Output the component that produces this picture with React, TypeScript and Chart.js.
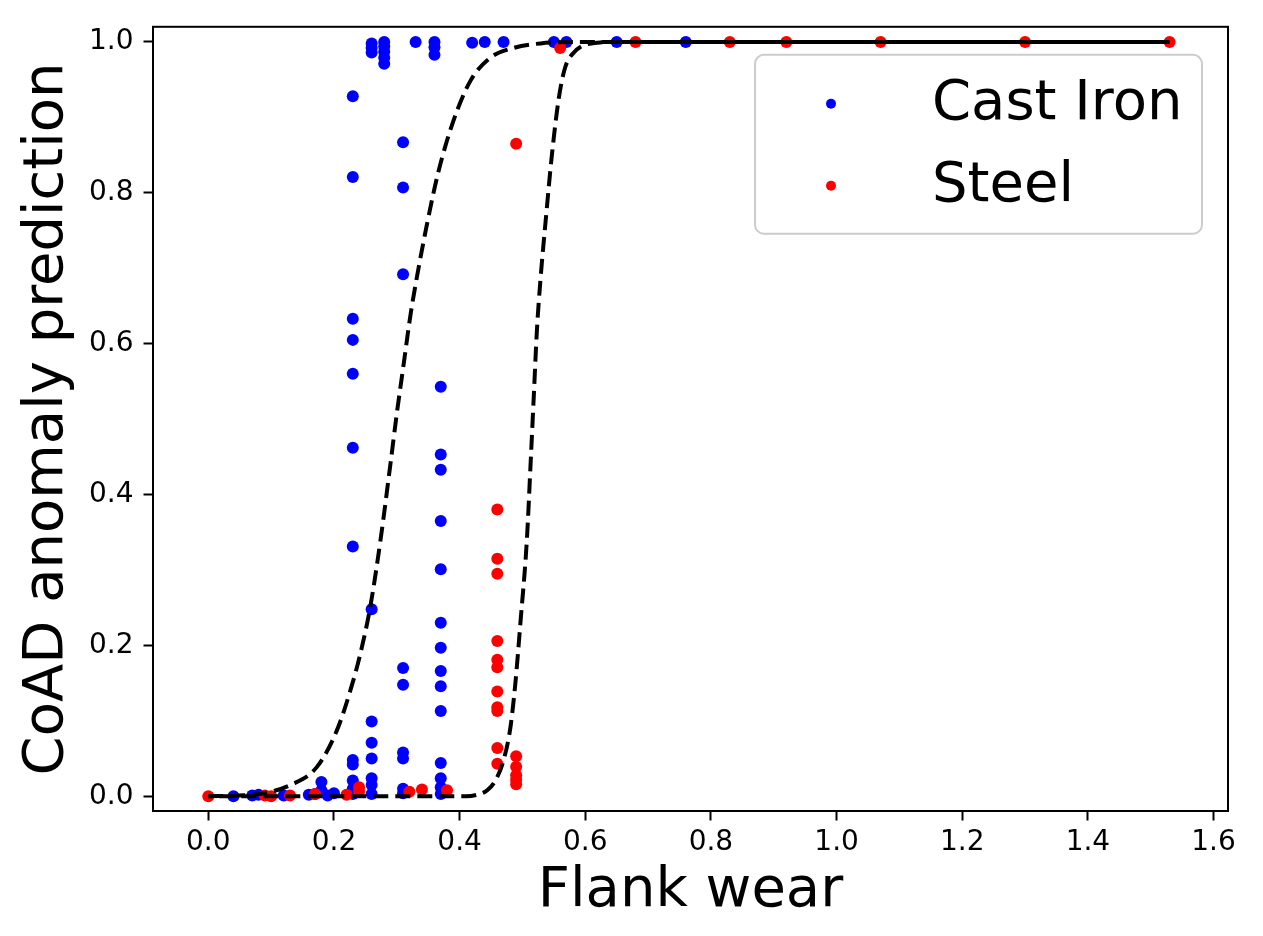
import { useEffect, useRef } from 'react';
import { Chart, registerables } from 'chart.js';
import type { Plugin } from 'chart.js';

Chart.register(...registerables);

const FONT = '"DejaVu Sans", sans-serif';

const seriesNames = ['Cast Iron', 'Steel'];
const seriesColors = ['#0000ff', '#ff0000'];

// [flank wear, anomaly prediction]
const castIronPoints: [number, number][] = [
  [0.04, 0.0], [0.07, 0.001], [0.08, 0.002], [0.12, 0.001], [0.16, 0.002],
  [0.17, 0.003], [0.18, 0.019], [0.18, 0.008], [0.19, 0.001], [0.2, 0.004],
  [0.23, 0.928], [0.23, 0.821], [0.23, 0.633], [0.23, 0.605], [0.23, 0.56],
  [0.23, 0.462], [0.23, 0.331], [0.23, 0.048], [0.23, 0.042], [0.23, 0.021],
  [0.23, 0.01], [0.23, 0.003],
  [0.26, 0.998], [0.26, 0.992], [0.26, 0.986], [0.26, 0.248], [0.26, 0.099],
  [0.26, 0.071], [0.26, 0.05], [0.26, 0.024], [0.26, 0.015], [0.26, 0.003],
  [0.28, 1.0], [0.28, 0.994], [0.28, 0.987], [0.28, 0.979], [0.28, 0.971],
  [0.31, 0.867], [0.31, 0.807], [0.31, 0.692], [0.31, 0.17], [0.31, 0.148],
  [0.31, 0.058], [0.31, 0.05], [0.31, 0.01], [0.31, 0.004],
  [0.33, 1.0], [0.36, 1.0], [0.36, 0.993], [0.36, 0.983],
  [0.37, 0.543], [0.37, 0.453], [0.37, 0.433], [0.37, 0.365], [0.37, 0.301],
  [0.37, 0.23], [0.37, 0.197], [0.37, 0.166], [0.37, 0.146], [0.37, 0.113],
  [0.37, 0.044], [0.37, 0.024], [0.37, 0.012], [0.37, 0.003],
  [0.42, 0.999], [0.44, 1.0], [0.47, 1.0], [0.55, 1.0], [0.57, 1.0],
  [0.65, 1.0], [0.76, 1.0],
];

const steelPoints: [number, number][] = [
  [0.0, 0.0], [0.09, 0.001], [0.1, 0.0], [0.13, 0.001], [0.17, 0.003],
  [0.22, 0.002], [0.24, 0.012], [0.24, 0.006], [0.32, 0.006], [0.34, 0.009],
  [0.38, 0.008],
  [0.46, 0.38], [0.46, 0.315], [0.46, 0.295], [0.46, 0.206], [0.46, 0.181],
  [0.46, 0.171], [0.46, 0.139], [0.46, 0.118], [0.46, 0.113], [0.46, 0.064],
  [0.46, 0.043],
  [0.49, 0.865], [0.49, 0.053], [0.49, 0.039], [0.49, 0.028], [0.49, 0.022],
  [0.49, 0.016],
  [0.56, 0.992], [0.68, 1.0], [0.83, 1.0], [0.92, 1.0], [1.07, 1.0],
  [1.3, 1.0], [1.53, 1.0],
];

// fitted curves
const castIronFit: [number, number][] = [
  [0.0, 0.0], [0.05, 0.001], [0.088, 0.004], [0.131, 0.015], [0.173, 0.039],
  [0.205, 0.088], [0.226, 0.14], [0.242, 0.189], [0.258, 0.252],
  [0.274, 0.339], [0.29, 0.441], [0.3, 0.507], [0.311, 0.573], [0.322, 0.639],
  [0.332, 0.688], [0.348, 0.758], [0.366, 0.827], [0.39, 0.895],
  [0.417, 0.948], [0.449, 0.979], [0.486, 0.992], [0.529, 0.998],
  [0.6, 1.0], [1.53, 1.0],
];

const steelFit: [number, number][] = [
  [0.0, 0.0], [0.41, 0.0], [0.428, 0.002], [0.444, 0.008], [0.457, 0.021],
  [0.47, 0.048], [0.481, 0.092], [0.489, 0.152], [0.497, 0.232],
  [0.507, 0.339], [0.513, 0.441], [0.518, 0.529], [0.523, 0.617],
  [0.529, 0.688], [0.537, 0.763], [0.547, 0.851], [0.558, 0.926],
  [0.568, 0.966], [0.582, 0.986], [0.603, 0.997], [0.65, 1.0], [1.53, 1.0],
];

const xTicks = [0, 0.2, 0.4, 0.6, 0.8, 1.0, 1.2, 1.4, 1.6];
const yTicks = [0, 0.2, 0.4, 0.6, 0.8, 1.0];

const toXY = (pts: [number, number][]) => pts.map(([x, y]) => ({ x, y }));

// matplotlib-like full frame plus the legend box inside the axes
const frameAndLegend: Plugin<'scatter'> = {
  id: 'frameAndLegend',
  afterDraw(chart) {
    const { ctx, chartArea } = chart;
    ctx.save();
    ctx.strokeStyle = '#000';
    ctx.lineWidth = 2;
    ctx.strokeRect(
      chartArea.left,
      chartArea.top,
      chartArea.right - chartArea.left,
      chartArea.bottom - chartArea.top,
    );

    const right = chartArea.right - 26;
    const top = chartArea.top + 28;
    const left = right - 447;
    const bottom = top + 179;
    ctx.beginPath();
    ctx.roundRect(left, top, right - left, bottom - top, 9);
    ctx.fillStyle = 'rgba(255,255,255,0.8)';
    ctx.fill();
    ctx.strokeStyle = '#cccccc';
    ctx.lineWidth = 2;
    ctx.stroke();

    ctx.font = `56px ${FONT}`;
    ctx.textBaseline = 'alphabetic';
    ctx.textAlign = 'left';
    seriesNames.forEach((name, i) => {
      const rowY = top + 49 + i * 82;
      ctx.beginPath();
      ctx.arc(left + 76, rowY, 5, 0, Math.PI * 2);
      ctx.fillStyle = seriesColors[i];
      ctx.fill();
      ctx.fillStyle = '#000';
      ctx.fillText(name, left + 177, rowY + 15);
    });
    ctx.restore();
  },
};

export default function App() {
  const canvasRef = useRef<HTMLCanvasElement | null>(null);

  useEffect(() => {
    if (!canvasRef.current) {
      return;
    }

    const tickFont = { family: FONT, size: 28 };
    const titleFont = { family: FONT, size: 56 };

    const chart = new Chart(canvasRef.current, {
      type: 'scatter',
      data: {
        datasets: [
          {
            label: 'Cast Iron fit',
            data: toXY(castIronFit),
            showLine: true,
            pointRadius: 0,
            borderColor: '#000',
            borderWidth: 4,
            borderDash: [15, 7],
            cubicInterpolationMode: 'monotone',
            order: 0,
          },
          {
            label: 'Steel fit',
            data: toXY(steelFit),
            showLine: true,
            pointRadius: 0,
            borderColor: '#000',
            borderWidth: 4,
            borderDash: [15, 7],
            borderDashOffset: 11,
            cubicInterpolationMode: 'monotone',
            order: 0,
          },
          {
            label: seriesNames[1],
            data: toXY(steelPoints),
            pointRadius: 6,
            pointBorderWidth: 0,
            backgroundColor: seriesColors[1],
            borderColor: seriesColors[1],
            order: 1,
          },
          {
            label: seriesNames[0],
            data: toXY(castIronPoints),
            pointRadius: 6,
            pointBorderWidth: 0,
            backgroundColor: seriesColors[0],
            borderColor: seriesColors[0],
            order: 2,
          },
        ],
      },
      options: {
        animation: false,
        responsive: true,
        maintainAspectRatio: false,
        events: [],
        layout: {
          padding: { top: 26, right: 35, left: 0, bottom: 0 },
        },
        plugins: {
          legend: { display: false },
          tooltip: { enabled: false },
        },
        scales: {
          x: {
            type: 'linear',
            min: -0.088,
            max: 1.623,
            afterBuildTicks: (scale) => {
              scale.ticks = xTicks.map((value) => ({ value }));
            },
            afterFit: (scale) => {
              scale.height = 125;
            },
            ticks: {
              font: tickFont,
              color: '#000',
              padding: 5,
              callback: (value) => Number(value).toFixed(1),
            },
            grid: {
              drawOnChartArea: false,
              tickLength: 9.5,
              tickColor: '#000',
              tickWidth: 2,
            },
            border: { color: '#000', width: 2 },
            title: {
              display: true,
              text: 'Flank wear',
              color: '#000',
              font: titleFont,
              padding: { top: 0, bottom: 11 },
            },
          },
          y: {
            type: 'linear',
            min: -0.0195,
            max: 1.02,
            afterBuildTicks: (scale) => {
              scale.ticks = yTicks.map((value) => ({ value }));
            },
            afterFit: (scale) => {
              scale.width = 153;
            },
            ticks: {
              font: tickFont,
              color: '#000',
              padding: 10,
              callback: (value) => Number(value).toFixed(1),
            },
            grid: {
              drawOnChartArea: false,
              tickLength: 9.5,
              tickColor: '#000',
              tickWidth: 2,
            },
            border: { color: '#000', width: 2 },
            title: {
              display: true,
              text: 'CoAD anomaly prediction',
              color: '#000',
              font: titleFont,
              padding: { top: 14, bottom: 0 },
            },
          },
        },
      },
      plugins: [frameAndLegend],
    });

    return () => {
      chart.destroy();
    };
  }, []);

  return (
    <div
      style={{
        position: 'fixed',
        left: 0,
        top: 0,
        width: 1263,
        height: 936,
        background: '#fff',
      }}
    >
      <canvas ref={canvasRef} />
    </div>
  );
}
